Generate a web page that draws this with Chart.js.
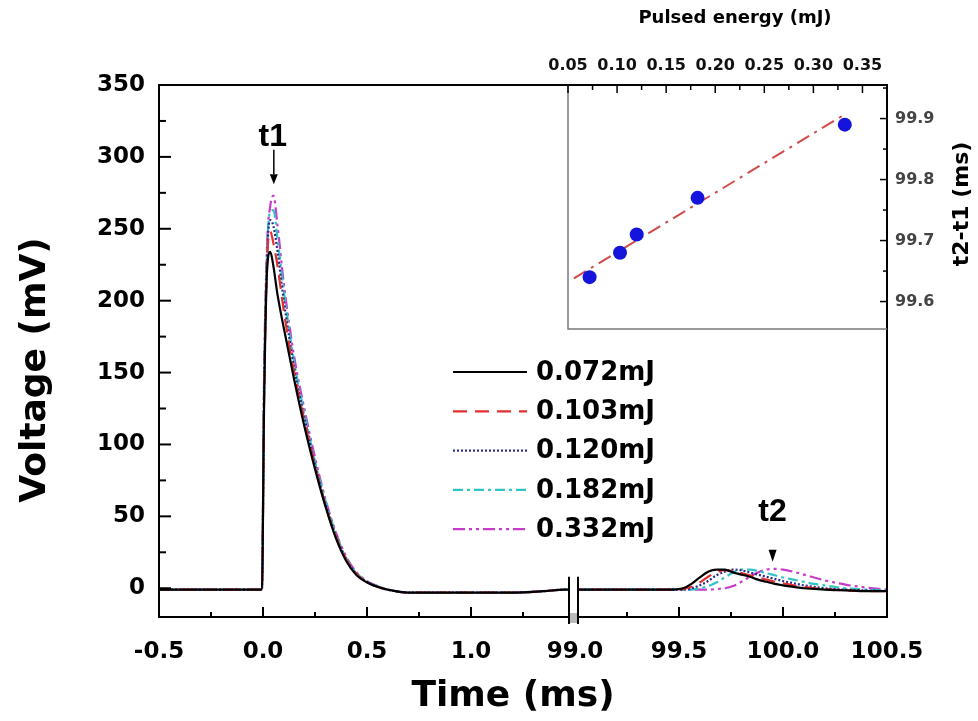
<!DOCTYPE html>
<html><head><meta charset="utf-8">
<script src="https://cdn.jsdelivr.net/npm/chart.js@4.4.1/dist/chart.umd.min.js"></script>
<style>
html,body{margin:0;padding:0;background:#fff;}
#wrap{position:relative;width:978px;height:721px;overflow:hidden;}
#main{position:absolute;left:0;top:0;}
#inset{position:absolute;left:540px;top:0;}
</style></head><body>
<div id="wrap"><canvas id="main" width="978" height="721"></canvas><canvas id="inset" width="438" height="340"></canvas></div>
<script>
// ---------------- data ----------------
const seriesLabels = ['0.072mJ', '0.103mJ', '0.120mJ', '0.182mJ', '0.332mJ'];

// first pulse (t1), time in ms
const pulseTimes = [-0.5, -0.25, -0.005, 0.005, 0.02, 0.035, 0.05, 0.07, 0.1, 0.15, 0.2, 0.25, 0.3, 0.35, 0.4, 0.45, 0.5, 0.55, 0.6, 0.7, 0.85, 1.0, 1.2, 1.35, 1.45];
const pulse072 = [-1, -1, -1, 125, 222, 234, 224, 204, 181, 145, 112, 83, 57, 35, 19, 9, 4, 1, -1, -3, -3, -3, -3, -2, -1];
const pulse103 = [-1, -1, -1, 130, 228, 248, 240, 224, 193, 150, 116, 85, 58, 36, 20, 10, 4, 1, -1, -3, -3, -3, -3, -2, -1];
const pulse120 = [-1, -1, -1, 135, 232, 256, 252, 234, 200, 153, 118, 86, 59, 37, 20, 10, 4.5, 1, -1, -3, -3, -3, -3, -2, -1];
const pulse182 = [-1, -1, -1, 140, 236, 262, 263, 243, 207, 157, 121, 88, 61, 38, 21, 10.5, 4.5, 1.5, -1, -3, -3, -3, -3, -2, -1];
const pulse332 = [-1, -1, -1, 145, 240, 266, 273, 252, 212, 161, 124, 91, 62, 39, 22, 11, 5, 1.5, -1, -3, -3, -3, -3, -2, -1];

// second pulse (t2), time in ms
const echoTimes = [99.05, 99.3, 99.45, 99.52, 99.56, 99.6, 99.64, 99.68, 99.72, 99.76, 99.8, 99.84, 99.88, 99.92, 99.96, 100.0, 100.05, 100.1, 100.15, 100.2, 100.3, 100.4, 100.5];
const echo072 = [-1, -1, -1, 0, 3, 7.5, 11.5, 13, 13, 11, 9.5, 8, 6, 4.5, 3, 2, 1, 0, -0.5, -1, -1.5, -2, -2];
const echo103 = [-1, -1, -1, -0.5, 1, 4, 8, 11, 12.5, 12, 10.5, 9, 7.5, 6, 4.5, 3.5, 2, 1, 0, -0.5, -1.5, -2, -2];
const echo120 = [-1, -1, -1, -1, 0, 2, 5, 9, 11.5, 13, 12.5, 11, 9.5, 8, 6.5, 5, 3.5, 2, 1, 0, -1, -1.5, -2];
const echo182 = [-1, -1, -1, -1, -1, 0, 1.5, 4, 7.5, 11, 13, 13, 12, 10.5, 9, 7.5, 6, 4.5, 3, 2, 0, -1, -1.5];
const echo332 = [-1, -1, -1, -1, -1, -1, -1, -0.5, 0, 1.5, 4.5, 8, 11, 13, 13.5, 13, 11.5, 9.5, 7.5, 5.5, 2.5, 0.5, -1];

const xTickLabels = ['-0.5', '0.0', '0.5', '1.0', '99.0', '99.5', '100.0', '100.5'];

// inset
const energies = [0.072, 0.103, 0.120, 0.182, 0.332];
const delays = [99.64, 99.68, 99.71, 99.77, 99.89];
const fitEnergy = [0.056, 0.33];
const fitDelay = [99.638, 99.905];
const insetXTickLabels = ['0.05', '0.10', '0.15', '0.20', '0.25', '0.30', '0.35'];
const insetYTicks = [99.6, 99.65, 99.7, 99.75, 99.8, 99.85, 99.9, 99.95];
const insetYTickLabels = ['99.6', '', '99.7', '', '99.8', '', '99.9', ''];

// ---------------- broken time axis ----------------
const BREAK_FROM = 1.5, BREAK_TO = 99.0;
const axisPos = t => (t < BREAK_TO ? t : t - (BREAK_TO - BREAK_FROM));

const pulseSets = [pulse072, pulse103, pulse120, pulse182, pulse332];
const echoSets = [echo072, echo103, echo120, echo182, echo332];
const lineStyles = [
  { color: '#000000', dash: [] },
  { color: '#e03030', dash: [14, 8] },
  { color: '#2b2b8c', dash: [2, 2] },
  { color: '#30c4c4', dash: [10, 4, 3, 4] },
  { color: '#c83cc8', dash: [12, 4, 3, 4, 3, 4] }
];

const datasets = seriesLabels.map((lab, i) => ({
  label: lab,
  data: pulseTimes.map((t, k) => ({ x: axisPos(t), y: pulseSets[i][k] }))
    .concat(echoTimes.map((t, k) => ({ x: axisPos(t), y: echoSets[i][k] }))),
  borderColor: lineStyles[i].color,
  borderDash: lineStyles[i].dash,
  borderWidth: 2.2,
  pointRadius: 0,
  fill: false,
  cubicInterpolationMode: 'monotone'
}));

const near = (v, step) => Math.abs(v / step - Math.round(v / step)) < 1e-6;
const noPad = s => { s.paddingTop = 0; s.paddingBottom = 0; s.paddingLeft = 0; s.paddingRight = 0; };

const mainDecor = {
  id: 'mainDecor',
  afterDraw(chart) {
    const ctx = chart.ctx, a = chart.chartArea;
    const xs = chart.scales.x, ys = chart.scales.y;
    ctx.save();
    // frame top & right
    ctx.strokeStyle = '#000'; ctx.lineWidth = 2; ctx.setLineDash([]);
    ctx.beginPath();
    ctx.moveTo(a.left - 1, a.top); ctx.lineTo(a.right, a.top); ctx.lineTo(a.right, a.bottom + 1);
    ctx.stroke();
    // inward ticks
    ctx.lineWidth = 2;
    xs.ticks.forEach(tk => {
      const u = tk.value;
      if (Math.abs(u - BREAK_FROM) < 1e-6) return;
      const px = xs.getPixelForValue(u);
      const len = near(u, 0.5) ? 10 : 5;
      ctx.beginPath(); ctx.moveTo(px, a.bottom); ctx.lineTo(px, a.bottom - len); ctx.stroke();
    });
    ys.ticks.forEach(tk => {
      const py = ys.getPixelForValue(tk.value);
      const len = near(tk.value, 50) ? 12 : 7;
      ctx.beginPath(); ctx.moveTo(a.left, py); ctx.lineTo(a.left + len, py); ctx.stroke();
    });
    // axis break marks
    const bx = xs.getPixelForValue(BREAK_FROM) - 1.5;
    const bTop = ys.getPixelForValue(8), bBot = a.bottom + 7;
    ctx.fillStyle = '#fff';
    ctx.fillRect(bx - 4, bTop, 8, a.bottom - 4 - bTop);
    ctx.fillStyle = '#bbb';
    ctx.fillRect(bx - 4, a.bottom - 4, 8, 10);
    ctx.strokeStyle = '#000'; ctx.lineWidth = 2;
    [bx - 4.5, bx + 4.5].forEach(lx => {
      ctx.beginPath(); ctx.moveTo(lx, bTop); ctx.lineTo(lx, bBot); ctx.stroke();
    });
    // annotations t1 / t2
    ctx.fillStyle = '#000';
    ctx.font = 'bold 32px "Liberation Sans", Arial, sans-serif';
    ctx.textAlign = 'center'; ctx.textBaseline = 'middle';
    const t1x = xs.getPixelForValue(axisPos(0.052));
    ctx.fillText('t1', t1x - 1, ys.getPixelForValue(314));
    ctx.lineWidth = 1.5;
    ctx.beginPath(); ctx.moveTo(t1x, ys.getPixelForValue(305)); ctx.lineTo(t1x, ys.getPixelForValue(288)); ctx.stroke();
    ctx.beginPath();
    const tipY = ys.getPixelForValue(281);
    ctx.moveTo(t1x - 4, tipY - 10); ctx.lineTo(t1x + 4, tipY - 10); ctx.lineTo(t1x, tipY); ctx.closePath(); ctx.fill();
    const t2x = xs.getPixelForValue(axisPos(99.95));
    ctx.fillText('t2', t2x, ys.getPixelForValue(53));
    const tip2 = ys.getPixelForValue(18.5);
    ctx.beginPath();
    ctx.moveTo(t2x - 4, tip2 - 12); ctx.lineTo(t2x + 4, tip2 - 12); ctx.lineTo(t2x, tip2); ctx.closePath(); ctx.fill();
    // legend
    const rowY0 = 372, rowGap = 39.3, lx0 = 453, lx1 = 527;
    ctx.font = 'bold 26px "DejaVu Sans", sans-serif';
    ctx.textAlign = 'left';
    chart.data.datasets.forEach((ds, i) => {
      const y = rowY0 + i * rowGap;
      ctx.strokeStyle = ds.borderColor; ctx.lineWidth = 2.2;
      ctx.setLineDash(ds.borderDash || []);
      ctx.beginPath(); ctx.moveTo(lx0, y); ctx.lineTo(lx1, y); ctx.stroke();
      ctx.setLineDash([]);
      ctx.fillStyle = '#000';
      ctx.fillText(ds.label, 536, y + 1);
    });
    // axis titles
    ctx.font = 'bold 36px "DejaVu Sans", sans-serif';
    ctx.textAlign = 'center'; ctx.textBaseline = 'middle';
    ctx.fillText('Time (ms)', 513, 697);
    ctx.save();
    ctx.translate(36, 370); ctx.rotate(-Math.PI / 2);
    ctx.fillText('Voltage (mV)', 0, 0);
    ctx.restore();
    ctx.restore();
  }
};

new Chart(document.getElementById('main'), {
  type: 'line',
  data: { datasets },
  options: {
    responsive: false, animation: false, devicePixelRatio: 1,
    layout: { padding: { top: 85, right: 91, left: 0, bottom: 0 } },
    plugins: { legend: { display: false }, tooltip: { enabled: false } },
    scales: {
      x: {
        type: 'linear', min: -0.5, max: 3.0,
        afterFit(s) { s.height = 104; noPad(s); },
        grid: { display: false, drawTicks: false },
        border: { display: true, color: '#000', width: 2 },
        ticks: {
          stepSize: 0.25, autoSkip: false, maxRotation: 0, minRotation: 0, includeBounds: false,
          padding: 21, color: '#000',
          font: { family: 'DejaVu Sans', weight: 'bold', size: 23 },
          callback: v => (near(v, 0.5) ? xTickLabels[Math.round((v + 0.5) / 0.5)] : '')
        }
      },
      y: {
        type: 'linear', min: -20, max: 350,
        afterFit(s) { s.width = 159; noPad(s); },
        grid: { display: false, drawTicks: false },
        border: { display: true, color: '#000', width: 2 },
        ticks: {
          stepSize: 25, autoSkip: false, includeBounds: false, padding: 14, color: '#000',
          font: { family: 'DejaVu Sans', weight: 'bold', size: 23 },
          callback: v => (near(v, 50) ? String(v) : '')
        }
      }
    }
  },
  plugins: [mainDecor]
});

// ---------------- inset ----------------
const insetDecor = {
  id: 'insetDecor',
  beforeDraw(chart) {
    const ctx = chart.ctx, a = chart.chartArea;
    ctx.save(); ctx.fillStyle = '#fff';
    ctx.fillRect(a.left, a.top, a.right - a.left, a.bottom - a.top);
    ctx.restore();
  },
  afterDraw(chart) {
    const ctx = chart.ctx, a = chart.chartArea;
    const xs = chart.scales.x, ys = chart.scales.y;
    ctx.save();
    ctx.strokeStyle = '#7a7a7a'; ctx.lineWidth = 1.5;
    ctx.beginPath(); ctx.moveTo(a.left, a.top); ctx.lineTo(a.left, a.bottom); ctx.lineTo(a.right, a.bottom); ctx.stroke();
    ctx.strokeStyle = '#000'; ctx.lineWidth = 1.5;
    xs.ticks.forEach(tk => {
      const px = xs.getPixelForValue(tk.value);
      const len = near(tk.value, 0.05) ? 8 : 5;
      ctx.beginPath(); ctx.moveTo(px, a.top); ctx.lineTo(px, a.top + len); ctx.stroke();
    });
    ys.ticks.forEach(tk => {
      const py = ys.getPixelForValue(tk.value);
      const len = near(tk.value, 0.1) ? 7 : 4;
      ctx.beginPath(); ctx.moveTo(a.right, py); ctx.lineTo(a.right - len, py); ctx.stroke();
    });
    ctx.fillStyle = '#000';
    ctx.textAlign = 'center'; ctx.textBaseline = 'middle';
    ctx.font = 'bold 18px "DejaVu Sans", sans-serif';
    ctx.fillText('Pulsed energy (mJ)', 195, 18);
    ctx.font = 'bold 22px "DejaVu Sans", sans-serif';
    ctx.save(); ctx.translate(422, 204); ctx.rotate(-Math.PI / 2);
    ctx.fillText('t2-t1 (ms)', 0, 0);
    ctx.restore();
    ctx.restore();
  }
};

new Chart(document.getElementById('inset'), {
  type: 'scatter',
  data: {
    datasets: [
      {
        label: 't2-t1',
        data: energies.map((e, i) => ({ x: e, y: delays[i] })),
        backgroundColor: '#1414dc', borderColor: '#1414dc', pointRadius: 7, pointBorderWidth: 0
      },
      {
        label: 'fit',
        data: fitEnergy.map((e, i) => ({ x: e, y: fitDelay[i] })),
        showLine: true, borderColor: '#d24a4a', borderWidth: 2, borderDash: [14, 6, 3, 6], pointRadius: 0
      }
    ]
  },
  options: {
    responsive: false, animation: false, devicePixelRatio: 1,
    layout: { padding: { top: 0, right: 0, left: 28, bottom: 11 } },
    plugins: { legend: { display: false }, tooltip: { enabled: false } },
    scales: {
      x: {
        type: 'linear', position: 'top', min: 0.05, max: 0.375,
        afterFit(s) { s.height = 85; noPad(s); },
        grid: { display: false, drawTicks: false },
        border: { display: true, color: '#000', width: 2 },
        ticks: {
          stepSize: 0.025, autoSkip: false, maxRotation: 0, includeBounds: false, padding: 10, color: '#111',
          font: { family: 'DejaVu Sans', weight: 'bold', size: 16 },
          callback: v => (near(v, 0.05) && v < 0.36 ? insetXTickLabels[Math.round((v - 0.05) / 0.05)] : '')
        }
      },
      y: {
        type: 'linear', position: 'right', min: 99.555, max: 99.955,
        afterBuildTicks(s) { s.ticks = insetYTicks.map(v => ({ value: v })); },
        afterFit(s) { s.width = 91; noPad(s); },
        grid: { display: false, drawTicks: false },
        border: { display: true, color: '#000', width: 2 },
        ticks: {
          autoSkip: false, padding: 8, color: '#444',
          font: { family: 'DejaVu Sans', weight: 'bold', size: 16 },
          callback: (v, i) => insetYTickLabels[i]
        }
      }
    }
  },
  plugins: [insetDecor]
});
</script>
</body></html>
